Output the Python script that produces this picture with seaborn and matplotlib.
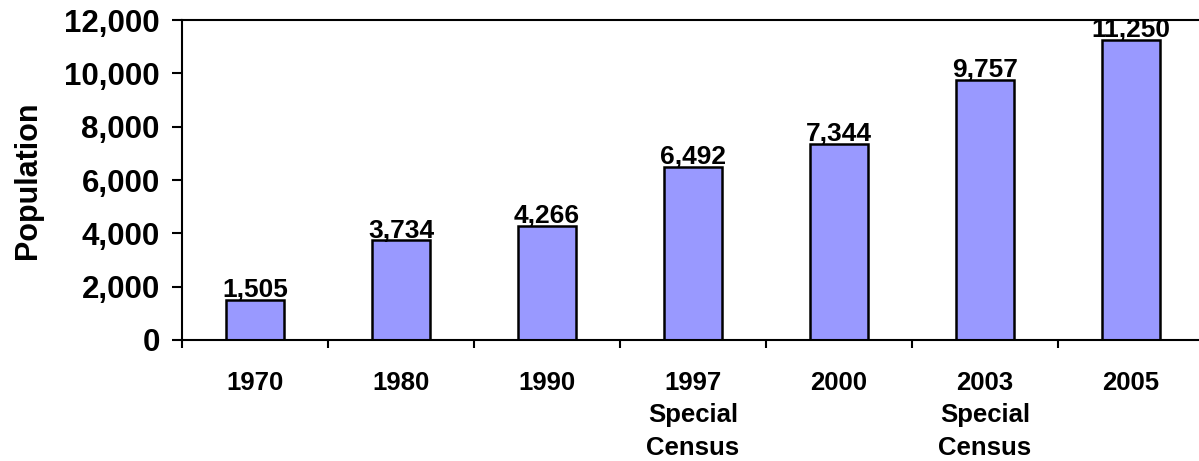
import matplotlib
matplotlib.use("Agg")
import matplotlib.pyplot as plt
import seaborn as sns
import pandas as pd
from matplotlib.ticker import FuncFormatter, FixedLocator

years = ["1970", "1980", "1990", "1997\nSpecial\nCensus", "2000", "2003\nSpecial\nCensus", "2005"]
population = [1505, 3734, 4266, 6492, 7344, 9757, 11250]

df = pd.DataFrame({"year": years, "population": population})

sns.set_style("white")
plt.rcParams["font.family"] = ["Liberation Sans", "DejaVu Sans"]
plt.rcParams["font.weight"] = "bold"
plt.rcParams["text.color"] = "black"
plt.rcParams["axes.labelcolor"] = "black"
plt.rcParams["xtick.color"] = "black"
plt.rcParams["ytick.color"] = "black"

fig = plt.figure(figsize=(11.99, 4.61), dpi=100)
ax = fig.add_axes([0.1518, 0.2625, 0.8524, 0.694])

sns.barplot(data=df, x="year", y="population", order=years, color="#9999FF",
            saturation=1, width=0.4, edgecolor="black", linewidth=1.8, ax=ax)

for i, v in enumerate(population):
    ax.text(i, v - 80, f"{v:,}", ha="center", va="bottom",
            fontsize=19, fontweight="bold", color="black")

ax.set_ylim(0, 12000)
ax.set_xlim(-0.5, len(years) - 0.5)
ax.set_yticks(range(0, 12001, 2000))
ax.yaxis.set_major_formatter(FuncFormatter(lambda v, p: f"{int(v):,}"))
ax.tick_params(axis="y", labelsize=22.5, length=7, width=1.5, direction="out",
               left=True, pad=9, colors="black")
ax.tick_params(axis="x", which="major", labelsize=18.5, length=0, pad=22,
               colors="black")
ax.xaxis.set_minor_locator(FixedLocator([i - 0.5 for i in range(len(years) + 1)]))
ax.tick_params(axis="x", which="minor", length=6, width=1.5, direction="out",
               bottom=True, colors="black")
for lab in ax.get_xticklabels():
    lab.set_fontweight("bold")
    lab.set_linespacing(1.45)
    lab.set_verticalalignment("top")
for lab in ax.get_yticklabels():
    lab.set_fontweight("bold")

ax.set_xlabel("")
ax.set_ylabel("Population", fontsize=22, fontweight="bold", color="black")
ax.yaxis.set_label_coords(-0.136, 0.5)

for s in ["left", "bottom", "top"]:
    ax.spines[s].set_color("black")
    ax.spines[s].set_linewidth(1.5)
ax.spines["right"].set_visible(False)

fig.savefig("out.png", dpi=100)
